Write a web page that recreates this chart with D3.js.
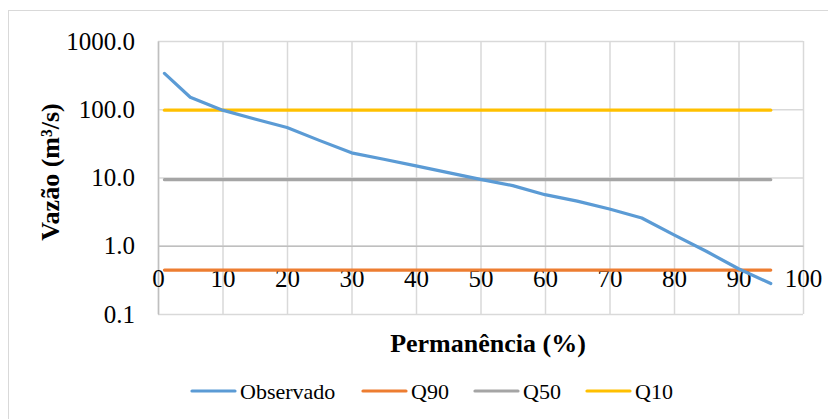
<!DOCTYPE html>
<html>
<head>
<meta charset="utf-8">
<script src="https://cdn.jsdelivr.net/npm/d3@7/dist/d3.min.js"></script>
<style>
  html, body { margin: 0; padding: 0; background: #fff; }
  svg { display: block; }
</style>
</head>
<body>
<svg id="chart" width="828" height="419"></svg>
<script>
// ---- data ----
const permanencia = [1, 5, 10, 15, 20, 25, 30, 35, 40, 45, 50, 55, 60, 65, 70, 75, 80, 85, 90, 95];
const observado   = [335, 150, 97, 72, 54, 35, 23, 18.5, 14.8, 11.8, 9.4, 7.6, 5.6, 4.5, 3.45, 2.55, 1.44, 0.83, 0.46, 0.28];
const q90 = 0.44;
const q50 = 9.3;
const q10 = 97;
const xTicks = [0, 10, 20, 30, 40, 50, 60, 70, 80, 90, 100];
const yTicks = [0.1, 1, 10, 100, 1000];
const seriesNames = ["Observado", "Q90", "Q50", "Q10"];
const seriesColors = ["#5b9bd5", "#ed7d31", "#a5a5a5", "#ffc000"];

// ---- layout ----
const FONT = '"Liberation Serif"';
const svg = d3.select("#chart");
const mLeft = 158, mRight = 803, mTop = 41, mBottom = 314;
const x = d3.scaleLinear().domain([0, 100]).range([mLeft, mRight]);
const y = d3.scaleLog().domain([0.1, 1000]).range([mBottom, mTop]);

function font(sel, size, weight) {
  sel.style("font-family", FONT).style("font-size", size + "px")
     .style("font-weight", weight || "normal").style("fill", "#000");
}

// outer border
svg.append("rect").attr("x", 8.5).attr("y", 10.5).attr("width", 840).attr("height", 430)
  .attr("fill", "none").attr("stroke", "#d9d9d9").attr("stroke-width", 1);

// gridlines
const gridX = svg.append("g").attr("transform", `translate(0,${mBottom})`)
  .call(d3.axisBottom(x).tickValues(xTicks).tickSize(-(mBottom - mTop)).tickFormat(""));
gridX.select(".domain").remove();
gridX.selectAll("line").attr("stroke", "#d9d9d9").attr("stroke-width", 1.5);

const gridY = svg.append("g").attr("transform", `translate(${mLeft},0)`)
  .call(d3.axisLeft(y).tickValues(yTicks).tickSize(-(mRight - mLeft)).tickFormat(""));
gridY.select(".domain").remove();
gridY.selectAll("line").attr("stroke", "#d9d9d9").attr("stroke-width", 1.5);

// y axis (labels + line)
const yAxis = svg.append("g").attr("transform", `translate(${mLeft},0)`)
  .call(d3.axisLeft(y).tickValues(yTicks).tickSize(0).tickPadding(23).tickFormat(d3.format(".1f")));
yAxis.select(".domain").attr("stroke", "#bfbfbf").attr("stroke-width", 1.5);
yAxis.selectAll("text").call(font, 25);

// x axis crossing at 1.0
const xAxis = svg.append("g").attr("transform", `translate(0,${y(1)})`)
  .call(d3.axisBottom(x).tickValues(xTicks).tickSize(0).tickFormat(d3.format("d")));
xAxis.select(".domain").attr("stroke", "#bfbfbf").attr("stroke-width", 1.5);
xAxis.selectAll("text").call(font, 25).attr("y", 32).attr("dy", "0.35em");

// series
const line = d3.line().x(d => x(d[0])).y(d => y(d[1]));
const xStart = permanencia[0], xEnd = permanencia[permanencia.length - 1];
const seriesData = [
  permanencia.map((p, i) => [p, observado[i]]),
  [[xStart, q90], [xEnd, q90]],
  [[xStart, q50], [xEnd, q50]],
  [[xStart, q10], [xEnd, q10]]
];
const drawOrder = [2, 3, 1, 0];
drawOrder.forEach(i => {
  svg.append("path").datum(seriesData[i]).attr("d", line)
    .attr("fill", "none").attr("stroke", seriesColors[i]).attr("stroke-width", 3.2)
    .attr("stroke-linecap", "round").attr("stroke-linejoin", "round");
});

// axis titles
svg.append("text").attr("x", 488).attr("y", 352).attr("text-anchor", "middle")
  .call(font, 26, "bold").text("Permanência (%)");
svg.append("text").attr("transform", "translate(50,172) rotate(-90)").attr("dy", "0.35em")
  .attr("text-anchor", "middle").call(font, 26, "bold").text("Vazão (m³/s)");

// legend
const legendX = [192, 363, 475, 587];
const legendY = 391;
seriesNames.forEach((name, i) => {
  const g = svg.append("g").attr("transform", `translate(${legendX[i]},${legendY})`);
  g.append("line").attr("x1", 0).attr("x2", 43).attr("y1", 0).attr("y2", 0)
    .attr("stroke", seriesColors[i]).attr("stroke-width", 3.2).attr("stroke-linecap", "round");
  g.append("text").attr("x", 48).attr("dy", "0.35em").call(font, 22).text(name);
});
</script>
</body>
</html>
